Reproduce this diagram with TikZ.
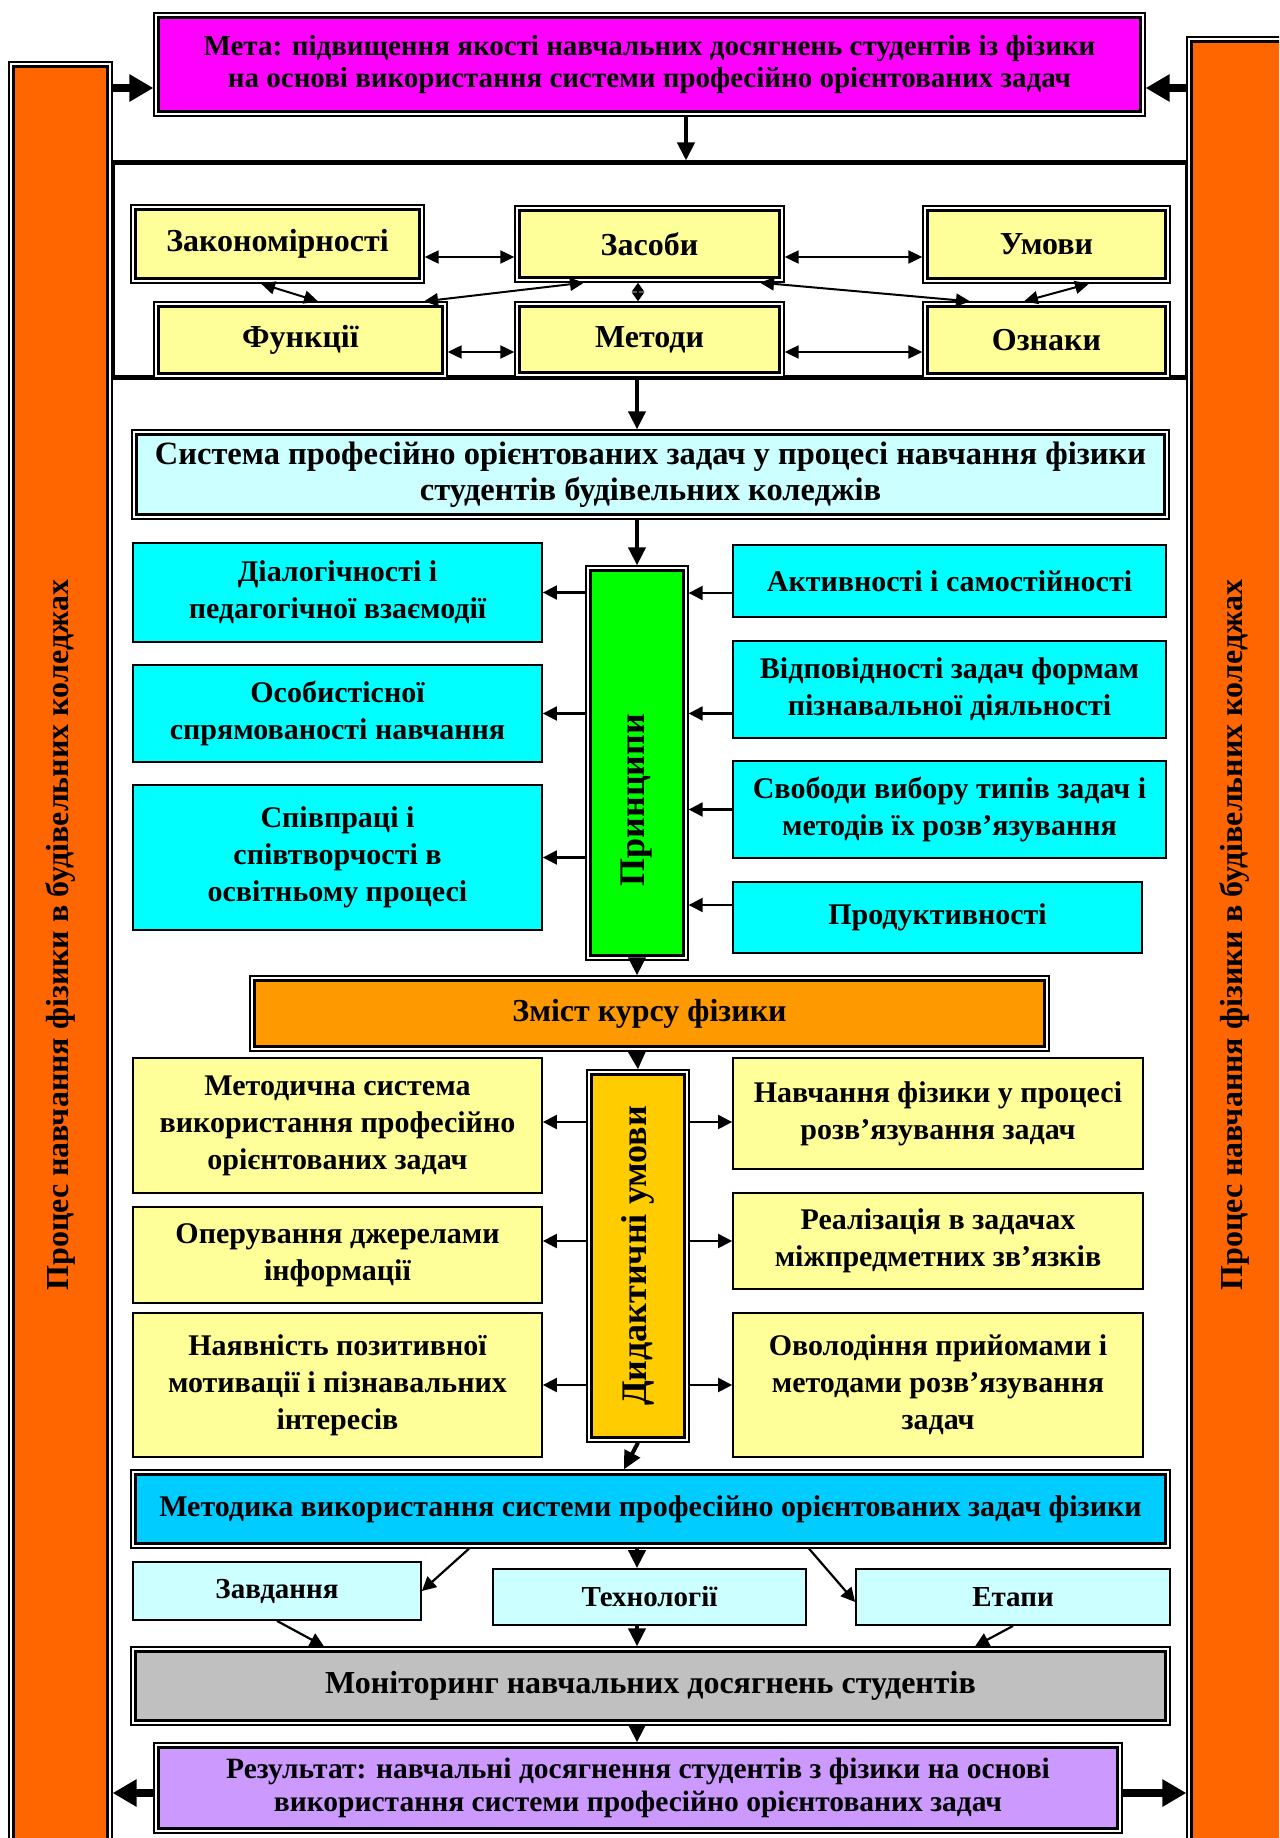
\documentclass[tikz,border=0pt]{standalone}
\usepackage{fontspec}
\setmainfont{Liberation Serif}
\usetikzlibrary{arrows.meta,fit}
\definecolor{cMag}{HTML}{FF00FF}
\definecolor{cBar}{HTML}{FF6600}
\definecolor{cYel}{HTML}{FFFF99}
\definecolor{cLCy}{HTML}{CCFFFF}
\definecolor{cCy}{HTML}{00FFFF}
\definecolor{cGrn}{HTML}{00FF00}
\definecolor{cOrg}{HTML}{FF9900}
\definecolor{cGold}{HTML}{FFCC00}
\definecolor{cBlu}{HTML}{00CCFF}
\definecolor{cGray}{HTML}{C0C0C0}
\definecolor{cLav}{HTML}{CC99FF}
% box by corners: style, name, x1, y1, x2, y2, text
\newcommand\bx[7]{%
  \pgfmathsetmacro\bxw{#5-#3}\pgfmathsetmacro\bxh{#6-#4}%
  \pgfmathsetmacro\bxx{(#3+#5)/2}\pgfmathsetmacro\bxy{(#4+#6)/2}%
  \node[#1, minimum width=\bxw pt, minimum height=\bxh pt] (#2) at (\bxx,\bxy) {#7};}
\begin{document}
\begin{tikzpicture}[x=1pt,y=-1pt,
  dbl/.style={draw=black, line width=1.3pt, fill=white, inner sep=0pt, align=center,
    font=\bfseries\fontsize{30}{37}\selectfont,
    path picture={\draw[draw=black, fill=#1, line width=2.8pt]
      ([shift={(4.6pt,-4.6pt)}]path picture bounding box.north west) rectangle
      ([shift={(-4.6pt,4.6pt)}]path picture bounding box.south east);}},
  sgl/.style={draw=black, line width=1.8pt, fill=#1, inner sep=0pt, align=center, font=\bfseries\fontsize{30}{37}\selectfont},
  fs/.style 2 args={font=\bfseries\fontsize{#1}{#2}\selectfont},
  ar/.style={line width=2.2pt, -{Triangle[length=14pt,width=14pt]}},
  dar/.style={line width=2pt, {Triangle[length=14pt,width=13pt]}-{Triangle[length=14pt,width=13pt]}},
  sdar/.style={line width=2pt, {Triangle[length=9pt,width=12pt]}-{Triangle[length=9pt,width=12pt]}},
  var/.style={line width=4pt, -{Triangle[length=18pt,width=17pt]}},
  bar/.style={line width=8pt, -{Triangle[length=24pt,width=26pt]}},
  rot/.style={rotate=90, font=\bfseries\fontsize{#1}{#1}\selectfont},
]
\useasboundingbox (0,0) rectangle (1279,1838);
\clip (0,0) rectangle (1279,1838);
% helper coordinates
\foreach \v in {88,257,352,593,905,1122,1241,1385,1602,1793}{\coordinate (Y\v) at (0,\v);}
\foreach \v in {261,318,424,584,760,970,1024,1089,638,686,624,469,809,324,975}{\coordinate (X\v) at (\v,0);}
% frames
\draw[line width=0.8pt, double=white, double distance=1.2pt] (112,156) rectangle (1187,379);
\draw[line width=0.8pt, double=white, double distance=1.2pt] (112,379) rectangle (1187,1900);
\node[draw=black, line width=5pt, inner sep=0pt, fit={(112,163)(1187,377)}] (frame) {};
% side bars
\bx{dbl=cBar}{leftbar}{9}{62}{112}{1900}{}
\bx{dbl=cBar}{rightbar}{1187}{37}{1300}{1900}{}
\node[rot=32] (lbt) at (60,935) {Процес навчання фізики в будівельних коледжах};
\node[rot=32] (rbt) at (1234,935) {Процес навчання фізики в будівельних коледжах};
% goal
\bx{dbl=cMag, fs={29}{32}}{meta}{154}{13}{1145}{116}{Мета: підвищення якості навчальних досягнень студентів із фізики\\на основі використання системи професійно орієнтованих задач}
% top six
\bx{dbl=cYel, fs={32}{36}}{zak}{131}{205}{424}{283}{Закономірності}
\bx{dbl=cYel, fs={32}{36}}{zas}{515}{206}{784}{282}{Засоби}
\bx{dbl=cYel, fs={32}{36}}{umo}{923}{206}{1170}{283}{Умови}
\bx{dbl=cYel, fs={32}{36}}{fun}{154}{302}{447}{378}{Функції}
\bx{dbl=cYel, fs={32}{36}}{met}{515}{302}{784}{377}{Методи}
\bx{dbl=cYel, fs={32}{36}}{ozn}{923}{302}{1170}{378}{Ознаки}
% system
\bx{dbl=cLCy, fs={32.5}{36}}{sys}{132}{430}{1169}{519}{Система професійно орієнтованих задач у процесі навчання фізики\\студентів будівельних коледжів}
% principles
\bx{dbl=cGrn}{princ}{586}{566}{688}{960}{}
\node[rot=36] (princt) at (637,800) {Принципи};
\bx{sgl=cCy}{dial}{133}{543}{542}{642}{Діалогічності і\\педагогічної взаємодії}
\bx{sgl=cCy}{osob}{133}{665}{542}{762}{Особистісної\\спрямованості навчання}
\bx{sgl=cCy}{spiv}{133}{785}{542}{930}{Співпраці і\\співтворчості в\\освітньому процесі}
\bx{sgl=cCy}{akt}{733}{545}{1166}{617}{Активності і самостійності}
\bx{sgl=cCy}{vidp}{733}{641}{1166}{738}{Відповідності задач формам\\пізнавальної діяльності}
\bx{sgl=cCy}{svob}{733}{761}{1166}{858}{Свободи вибору типів задач і\\методів їх розв’язування}
\bx{sgl=cCy}{prod}{733}{882}{1142}{953}{Продуктивності}
% content
\bx{dbl=cOrg, fs={32}{36}}{zmist}{250}{976}{1049}{1051}{Зміст курсу фізики}
\bx{dbl=cGold}{did}{587}{1070}{689}{1442}{}
\node[rot=36] (didt) at (did.center) {Дидактичні умови};
\bx{sgl=cYel}{msys}{133}{1058}{542}{1193}{Методична система\\використання професійно\\орієнтованих задач}
\bx{sgl=cYel}{oper}{133}{1207}{542}{1303}{Оперування джерелами\\інформації}
\bx{sgl=cYel}{nayav}{133}{1313}{542}{1457}{Наявність позитивної\\мотивації і пізнавальних\\інтересів}
\bx{sgl=cYel}{navch}{733}{1058}{1143}{1169}{Навчання фізики у процесі\\розв’язування задач}
\bx{sgl=cYel}{real}{733}{1193}{1143}{1289}{Реалізація в задачах\\міжпредметних зв’язків}
\bx{sgl=cYel}{ovol}{733}{1313}{1143}{1457}{Оволодіння прийомами і\\методами розв’язування\\задач}
% method
\bx{dbl=cBlu, fs={30}{34}}{metod}{131}{1470}{1170}{1548}{Методика використання системи професійно орієнтованих задач фізики}
\bx{sgl=cLCy, fs={29}{34}}{zavd}{133}{1562}{421}{1620}{Завдання}
\bx{sgl=cLCy, fs={29}{34}}{tech}{493}{1569}{806}{1625}{Технології}
\bx{sgl=cLCy, fs={29}{34}}{etap}{856}{1569}{1170}{1625}{Етапи}
\bx{dbl=cGray, fs={32}{36}}{mon}{131}{1647}{1170}{1725}{Моніторинг навчальних досягнень студентів}
\bx{dbl=cLav, fs={29.5}{33}}{res}{154}{1743}{1122}{1833}{Результат: навчальні досягнення студентів з фізики на основі\\використання системи професійно орієнтованих задач}
% bar arrows
\draw[bar] (leftbar.east |- Y88) -- (meta.west |- Y88);
\draw[bar] (rightbar.west |- Y88) -- (meta.east |- Y88);
\draw[bar] (res.west |- Y1793) -- (leftbar.east |- Y1793);
\draw[bar] (res.east |- Y1793) -- (rightbar.west |- Y1793);
% vertical flow arrows
\draw[var] (meta.south -| X686) -- (frame.north -| X686);
\draw[var] (frame.south -| princ) -- (sys.north -| princ);
\draw[var] (sys.south -| princ) -- (princ.north);
\draw[var] (princ.south) -- (zmist.north -| princ);
\draw[var] (zmist.south -| princ) -- (did.north);
\draw[var] (did.south) -- (metod.north -| X624);
\draw[var] (metod.south -| princ) -- (tech.north -| princ);
\draw[var] (tech.south -| princ) -- (mon.north -| princ);
\draw[var] (mon.south -| princ) -- (res.north -| princ);
% top block arrows
\draw[dar] (zak.east |- Y257) -- (zas.west |- Y257);
\draw[dar] (zas.east |- Y257) -- (umo.west |- Y257);
\draw[dar] (fun.east |- Y352) -- (met.west |- Y352);
\draw[dar] (met.east |- Y352) -- (ozn.west |- Y352);
\draw[dar] (zak.south -| X261) -- (fun.north -| X318);
\draw[dar] (fun.north -| X424) -- (zas.south -| X584);
\draw[dar] (zas.south -| X760) -- (ozn.north -| X970);
\draw[dar] (umo.south -| X1089) -- (ozn.north -| X1024);
\draw[sdar] (zas.south -| X638) -- (met.north -| X638);
% principles arrows
\draw[ar] (princ.west |- dial) -- (dial.east);
\draw[ar] (princ.west |- osob) -- (osob.east);
\draw[ar] (princ.west |- spiv) -- (spiv.east);
\draw[ar] (akt.west |- Y593) -- (princ.east |- Y593);
\draw[ar] (vidp.west |- osob) -- (princ.east |- osob);
\draw[ar] (svob.west) -- (princ.east |- svob);
\draw[ar] (prod.west |- Y905) -- (princ.east |- Y905);
% didactic arrows
\draw[ar] (did.west |- Y1122) -- (msys.east |- Y1122);
\draw[ar] (did.west |- Y1241) -- (oper.east |- Y1241);
\draw[ar] (did.west |- Y1385) -- (nayav.east |- Y1385);
\draw[ar] (did.east |- Y1122) -- (navch.west |- Y1122);
\draw[ar] (did.east |- Y1241) -- (real.west |- Y1241);
\draw[ar] (did.east |- Y1385) -- (ovol.west |- Y1385);
% method arrows
\draw[ar] (metod.south -| X469) -- (zavd.east);
\draw[ar] (metod.south -| X809) -- (etap.west |- Y1602);
\draw[ar] (zavd.south) -- (mon.north -| X324);
\draw[ar] (etap.south) -- (mon.north -| X975);
\end{tikzpicture}
\end{document}
